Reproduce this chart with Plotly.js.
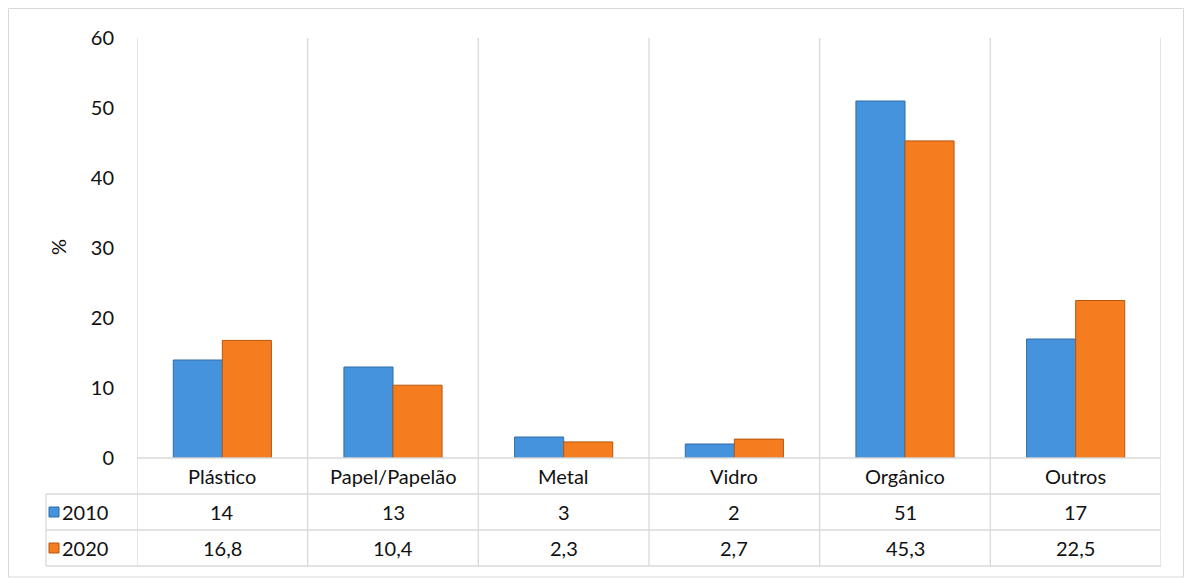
<!DOCTYPE html>
<html>
<head>
<meta charset="utf-8">
<script src="https://cdn.plot.ly/plotly-3.0.1.min.js"></script>
<style>
  html, body { margin: 0; padding: 0; background: #fff; }
  #chart { width: 1185px; height: 578px; }
</style>
</head>
<body>
<div id="chart"></div>
<script>
const categories = ['Plástico', 'Papel/Papelão', 'Metal', 'Vidro', 'Orgânico', 'Outros'];
const seriesNames = ['2010', '2020'];
const values2010 = [14, 13, 3, 2, 51, 17];
const values2020 = [16.8, 10.4, 2.3, 2.7, 45.3, 22.5];
const yTicks = [0, 10, 20, 30, 40, 50, 60];

const FONT = 'Lato, "Open Sans", "Liberation Sans", sans-serif';
const FS = 20;
const TXT = '#111111';
const GRID = '#d9d9d9';
const BLUE = '#4593dd', BLUE_LINE = '#2f6ca8';
const ORANGE = '#f57c1f', ORANGE_LINE = '#b5570f';

const W = 1185, H = 578;
const L = 137, R = 1161, T = 38, B = 458;
const pw = R - L, ph = B - T;
const px = x => (x - L) / pw;
const py = y => (B - y) / ph;

const fmt = v => String(v).replace('.', ',');
const xs = categories.map((c, i) => i);

const traces = [
  { type: 'bar', name: seriesNames[0], x: xs, y: values2010,
    marker: { color: BLUE, line: { color: BLUE_LINE, width: 1 } }, hoverinfo: 'skip' },
  { type: 'bar', name: seriesNames[1], x: xs, y: values2020,
    marker: { color: ORANGE, line: { color: ORANGE_LINE, width: 1 } }, hoverinfo: 'skip' }
];

const shapes = [];
const annotations = [];

// outer chart border
shapes.push({ type: 'rect', xref: 'paper', yref: 'paper', x0: px(8.5), x1: px(1183.5), y0: py(577), y1: py(8.5),
  line: { color: GRID, width: 1 }, layer: 'below' });

// vertical category boundary lines (plot + table)
for (let i = 0; i <= categories.length; i++) {
  shapes.push({ type: 'line', xref: 'x', yref: 'paper', x0: i - 0.5, x1: i - 0.5, y0: py(566), y1: 1,
    line: { color: GRID, width: 1.3 }, layer: 'below' });
}
// table horizontal lines
shapes.push({ type: 'line', xref: 'paper', yref: 'paper', x0: 0, x1: 1, y0: 0, y1: 0, line: { color: GRID, width: 1.3 } });
[494, 530, 566].forEach(y => {
  shapes.push({ type: 'line', xref: 'paper', yref: 'paper', x0: px(46), x1: 1, y0: py(y), y1: py(y), line: { color: GRID, width: 1.3 } });
});
shapes.push({ type: 'line', xref: 'paper', yref: 'paper', x0: px(46), x1: px(46), y0: py(494), y1: py(566), line: { color: GRID, width: 1.3 } });

// category labels row
categories.forEach((c, i) => {
  annotations.push({ xref: 'x', yref: 'paper', x: i, y: py(476), text: c, showarrow: false,
    xanchor: 'center', yanchor: 'middle', font: { family: FONT, size: FS, color: TXT } });
});
// data rows
const rows = [values2010, values2020];
const rowY = [512, 548];
const colors = [[BLUE, BLUE_LINE], [ORANGE, ORANGE_LINE]];
rows.forEach((vals, r) => {
  vals.forEach((v, i) => {
    annotations.push({ xref: 'x', yref: 'paper', x: i, y: py(rowY[r]), text: fmt(v), showarrow: false,
      xanchor: 'center', yanchor: 'middle', font: { family: FONT, size: FS, color: TXT } });
  });
  annotations.push({ xref: 'paper', yref: 'paper', x: px(60), y: py(rowY[r]), text: seriesNames[r], showarrow: false,
    xanchor: 'left', yanchor: 'middle', font: { family: FONT, size: FS, color: TXT } });
  shapes.push({ type: 'rect', xref: 'paper', yref: 'paper', x0: px(49), x1: px(59), y0: py(rowY[r] + 5), y1: py(rowY[r] - 5),
    fillcolor: colors[r][0], line: { color: colors[r][1], width: 1 } });
});

// y axis title
annotations.push({ xref: 'paper', yref: 'paper', x: px(58), y: py(247), text: '%', showarrow: false, textangle: -90,
  xanchor: 'center', yanchor: 'middle', font: { family: FONT, size: FS, color: TXT } });

const layout = {
  width: W, height: H,
  margin: { l: L, r: W - R, t: T, b: H - B, pad: 0 },
  paper_bgcolor: '#fff', plot_bgcolor: '#fff',
  showlegend: false,
  barmode: 'group',
  bargap: 0.425,
  bargroupgap: 0,
  font: { family: FONT, size: FS, color: TXT },
  xaxis: { type: 'linear', range: [-0.5, categories.length - 0.5], showgrid: false, zeroline: false,
    showticklabels: false, ticks: '', showline: false, fixedrange: true },
  yaxis: { range: [0, 60], tickvals: yTicks, ticktext: yTicks.map(String), showgrid: false, zeroline: false,
    showline: false, ticks: '', ticklabelstandoff: 22, tickfont: { family: FONT, size: FS, color: TXT }, fixedrange: true },
  shapes: shapes,
  annotations: annotations
};

Plotly.newPlot('chart', traces, layout, { displayModeBar: false, staticPlot: true });
</script>
</body>
</html>
